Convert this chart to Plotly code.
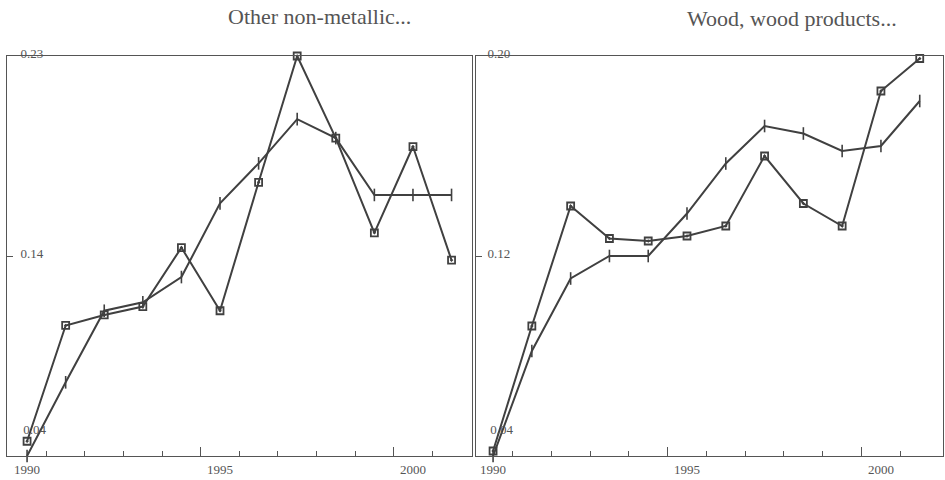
import plotly.graph_objects as go

# ---- data ----
years = list(range(1990, 2002))
nonmet_sq = [0.047, 0.102, 0.107, 0.111, 0.139, 0.109, 0.170, 0.230, 0.191, 0.146, 0.187, 0.133]
nonmet_plus = [0.040, 0.075, 0.109, 0.113, 0.125, 0.160, 0.179, 0.200, 0.191, 0.164, 0.164, 0.164]
wood_sq = [0.042, 0.092, 0.140, 0.127, 0.126, 0.128, 0.132, 0.160, 0.141, 0.132, 0.186, 0.199]
wood_plus = [0.040, 0.082, 0.111, 0.120, 0.120, 0.137, 0.157, 0.172, 0.169, 0.162, 0.164, 0.182]

titles = ["Other non-metallic...", "Wood, wood products..."]
y_lo = [0.04, 0.04]
y_hi = [0.23, 0.20]
y_mid_text = ["0.14", "0.12"]
y_lo_text = ["0.04", "0.04"]
y_hi_text = ["0.23", "0.20"]
x_label_years = [1990, 1995, 2000]
x_minor_ticks = [1990.5 + i for i in range(11)]
x_major_ticks = [1994.5, 1999.5]

LINE = "#404040"
TXT = "#555555"
FONT = "Liberation Serif"

W, H = 945, 480
x_dom = [[7 / W, 472 / W], [476 / W, 943 / W]]
y_dom = [1 - 456 / H, 1 - 56 / H]
x_rng = [[1989.48, 2001.53], [1989.56, 2001.60]]
y_standoff = [-40, -38]

fig = go.Figure()
panels = [(nonmet_sq, nonmet_plus), (wood_sq, wood_plus)]
for i, (sq, pl) in enumerate(panels):
    xa = "x" if i == 0 else "x2"
    ya = "y" if i == 0 else "y2"
    fig.add_trace(go.Scatter(
        x=years, y=sq, xaxis=xa, yaxis=ya, mode="lines+markers",
        line=dict(color=LINE, width=2), cliponaxis=False,
        marker=dict(symbol="square-open-dot", size=7, color=LINE,
                    line=dict(color=LINE, width=1.8)),
        showlegend=False, name="series 1"))
    fig.add_trace(go.Scatter(
        x=years, y=pl, xaxis=xa, yaxis=ya, mode="lines+markers",
        line=dict(color=LINE, width=2), cliponaxis=False,
        marker=dict(symbol="line-ns", size=9, color=LINE,
                    line=dict(color=LINE, width=1.6)),
        showlegend=False, name="series 2"))
    # empty helpers so the overlay axes render
    fig.add_trace(go.Scatter(x=[], y=[], xaxis="x%d" % (3 + i), yaxis=ya,
                             showlegend=False, hoverinfo="skip"))
    fig.add_trace(go.Scatter(x=[], y=[], xaxis=xa, yaxis="y%d" % (3 + i),
                             showlegend=False, hoverinfo="skip"))

tickfont = dict(family=FONT, size=13, color=TXT)
for i in range(2):
    xn = "xaxis" if i == 0 else "xaxis2"
    yn = "yaxis" if i == 0 else "yaxis2"
    xr = "x" if i == 0 else "x2"
    yr = "y" if i == 0 else "y2"
    lo, hi = y_lo[i], y_hi[i]
    fig.layout[xn] = dict(
        domain=x_dom[i], range=x_rng[i], anchor=yr, automargin=False,
        showgrid=False, zeroline=False, showline=True, mirror=True,
        linecolor=TXT, linewidth=1.3,
        tickmode="array", tickvals=x_label_years,
        ticktext=[str(v) for v in x_label_years], ticks="",
        ticklabelstandoff=1, tickfont=tickfont,
        minor=dict(tickmode="array", tickvals=x_minor_ticks, ticks="inside",
                   ticklen=5, tickcolor=TXT, tickwidth=1, showgrid=False),
    )
    fig.layout["xaxis%d" % (3 + i)] = dict(
        overlaying=xr, anchor=yr, range=x_rng[i], showgrid=False, automargin=False,
        zeroline=False, showline=False, tickmode="array",
        tickvals=x_major_ticks, ticks="inside", ticklen=9, tickcolor=TXT,
        tickwidth=1, showticklabels=False, side="bottom")
    fig.layout[yn] = dict(
        domain=y_dom, range=[lo, hi], anchor=xr, automargin=False,
        showgrid=False, zeroline=False, showline=True, mirror=True,
        linecolor=TXT, linewidth=1.3,
        tickmode="array", tickvals=[lo, (lo + hi) / 2, hi],
        ticktext=["", y_mid_text[i], y_hi_text[i]],
        ticks="inside", ticklen=6, tickcolor=TXT, tickwidth=1,
        ticklabelposition="outside", ticklabelshift=-3,
        ticklabelstandoff=y_standoff[i], tickfont=tickfont,
    )
    fig.layout["yaxis%d" % (3 + i)] = dict(
        overlaying=yr, anchor=xr, range=[lo, hi], side="left", automargin=False,
        showgrid=False, zeroline=False, showline=False,
        tickmode="array", tickvals=[lo], ticktext=[y_lo_text[i]], ticks="",
        ticklabelposition="outside", ticklabelshift=-27,
        ticklabelstandoff=y_standoff[i], tickfont=tickfont,
    )

fig.add_annotation(text=titles[0], x=319 / W, y=1 - 17 / H, xref="paper", yref="paper",
                   showarrow=False, xanchor="center", yanchor="middle",
                   font=dict(family=FONT, size=22, color=TXT))
fig.add_annotation(text=titles[1], x=792 / W, y=1 - 19 / H, xref="paper", yref="paper",
                   showarrow=False, xanchor="center", yanchor="middle",
                   font=dict(family=FONT, size=22, color=TXT))

fig.update_layout(width=W, height=H, margin=dict(l=0, r=0, t=0, b=0),
                  paper_bgcolor="white", plot_bgcolor="white")
fig.write_html("out.html")
